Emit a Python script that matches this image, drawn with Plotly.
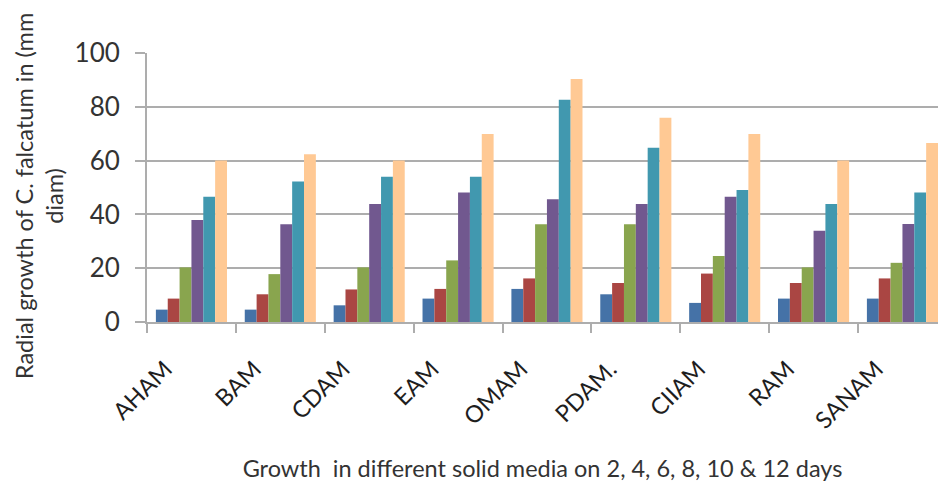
import plotly.graph_objects as go

# Growth media (categories on the x axis)
media = ["AHAM", "BAM", "CDAM", "EAM", "OMAM", "PDAM.", "CIIAM", "RAM", "SANAM"]

# Radial growth (mm diam) recorded on each day
day2 = [4.6, 4.6, 6.2, 8.7, 12.3, 10.3, 7.1, 8.7, 8.7]
day4 = [8.7, 10.3, 12.1, 12.3, 16.2, 14.5, 18.0, 14.5, 16.2]
day6 = [20.3, 17.8, 20.3, 22.9, 36.3, 36.3, 24.5, 20.3, 22.0]
day8 = [37.9, 36.3, 43.9, 48.1, 45.6, 43.9, 46.6, 33.9, 36.4]
day10 = [46.6, 52.2, 54.0, 54.0, 82.6, 64.8, 49.1, 43.9, 48.1]
day12 = [60.0, 62.4, 60.0, 69.9, 90.3, 75.9, 69.9, 60.0, 66.5]

series = [
    ("2 days", day2, "#4572A7"),
    ("4 days", day4, "#AA4643"),
    ("6 days", day6, "#89A54E"),
    ("8 days", day8, "#71588F"),
    ("10 days", day10, "#4198AF"),
    ("12 days", day12, "#FFC994"),
]

FONT = "Lato"
TEXT = "#333333"
DARK = "#1e1e1e"
GRID = "#ADADAD"

fig = go.Figure()
for name, vals, color in series:
    fig.add_trace(go.Bar(
        name=name, x=media, y=vals,
        marker=dict(color=color, line=dict(width=0)),
    ))

fig.update_layout(
    width=938, height=482,
    margin=dict(l=147, r=0, t=53, b=160, pad=0),
    barmode="group", bargap=0.2, bargroupgap=0,
    plot_bgcolor="white", paper_bgcolor="white",
    showlegend=False,
    font=dict(family=FONT, color=TEXT),
)

fig.update_xaxes(
    range=[-0.5, 8.4],
    tickangle=-45,
    tickfont=dict(size=23.5, color=DARK),
    ticks="outside", tickson="boundaries", ticklen=9, tickwidth=2, tickcolor=GRID,
    ticklabelshift=-26, ticklabelstandoff=22,
    showline=True, linecolor=GRID, linewidth=2,
    showgrid=False,
    title=dict(text="Growth  in different solid media on 2, 4, 6, 8, 10 & 12 days",
               font=dict(size=23.5, color=TEXT), standoff=28),
)

fig.update_yaxes(
    range=[0, 100], dtick=20,
    tickfont=dict(size=26, color=TEXT),
    ticks="outside", ticklen=10, tickwidth=2, tickcolor=GRID,
    ticklabelstandoff=10,
    showline=True, linecolor=GRID, linewidth=2,
    showgrid=True, gridcolor=GRID, gridwidth=2,
    zeroline=False,
)

# Vertical y-axis title, two centred lines
fig.add_annotation(
    text="Radial growth of C. falcatum in (mm<br>diam)",
    xref="paper", yref="paper", x=-0.1365, y=0.468,
    xanchor="center", yanchor="middle", textangle=-90,
    showarrow=False, align="center",
    font=dict(size=23.5, color=TEXT, family=FONT),
)

fig.write_html("out.html")
